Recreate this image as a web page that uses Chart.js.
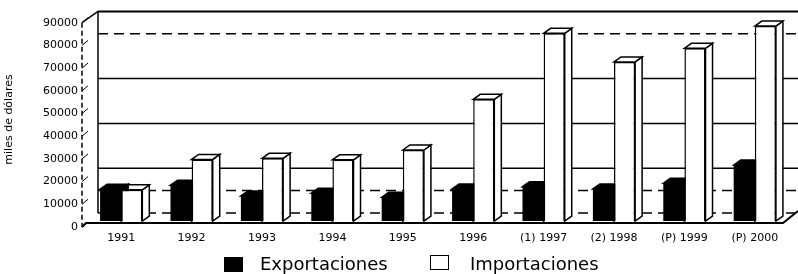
<!DOCTYPE html>
<html>
<head>
<meta charset="utf-8">
<script src="https://cdn.jsdelivr.net/npm/chart.js@4.4.1/dist/chart.umd.min.js"></script>
<style>
  body { margin: 0; background: #fff; }
  #wrap { position: relative; width: 798px; height: 274px; }
  #chart { position: absolute; left: 0; top: 0; }
  .lg { position: absolute; font: 18px "DejaVu Sans", sans-serif; color: #000; line-height: 18px; }
  .box { position: absolute; width: 19px; height: 15px; box-sizing: border-box; }
</style>
</head>
<body>
<div id="wrap">
  <canvas id="chart" width="798" height="274"></canvas>
  <div class="box" style="left:224px;top:257px;background:#000"></div>
  <div class="lg" style="left:260px;top:255px">Exportaciones</div>
  <div class="box" style="left:430px;top:255px;background:#fff;border:1.5px solid #000"></div>
  <div class="lg" style="left:470px;top:255px">Importaciones</div>
</div>
<script>
const years = ["1991", "1992", "1993", "1994", "1995", "1996", "(1) 1997", "(2) 1998", "(P) 1999", "(P) 2000"];
const exportaciones = [14200, 16000, 11200, 12400, 10600, 14300, 15300, 14300, 16800, 25000];
const importaciones = [13900, 27500, 28000, 27300, 31700, 54300, 83800, 71000, 77100, 87000];
const yTicks = [0, 10000, 20000, 30000, 40000, 50000, 60000, 70000, 80000, 90000];
const wallLines = [0, 10000, 20000, 40000, 60000, 80000, 90000];
const yTitle = "miles de dólares";

const smallFont = { family: "DejaVu Sans", size: 11 };

// fake 3d: back wall, left wall, floor and bar depth faces
const depth = {
  id: "depth",
  beforeDatasetsDraw(chart) {
    const ctx = chart.ctx;
    const a = chart.chartArea;
    const yb = chart.scales.yb, yf = chart.scales.yf, y = chart.scales.y;
    const xB = a.left + 12, xF = a.left - 4;
    const dashed = [0, 10000, 80000];
    ctx.save();
    ctx.strokeStyle = "#000";
    // back wall lines
    wallLines.forEach(v => {
      const py = yb.getPixelForValue(v);
      ctx.lineWidth = v === 90000 ? 2 : 1.5;
      ctx.setLineDash(dashed.includes(v) ? [10, 6] : []);
      ctx.beginPath();
      ctx.moveTo(xB, py);
      ctx.lineTo(chart.width, py);
      ctx.stroke();
    });
    ctx.setLineDash([]);
    ctx.lineWidth = 1.5;
    ctx.beginPath();
    ctx.moveTo(xB, yb.getPixelForValue(90000));
    ctx.lineTo(xB, yb.getPixelForValue(0));
    ctx.stroke();
    // front left edge, dashed, with slanted ticks
    ctx.setLineDash([5, 3]);
    ctx.beginPath();
    ctx.moveTo(xF, yf.getPixelForValue(90000));
    ctx.lineTo(xF, yf.getPixelForValue(0));
    ctx.stroke();
    ctx.setLineDash([]);
    ctx.lineWidth = 1;
    yTicks.forEach(v => {
      const py = yf.getPixelForValue(v);
      ctx.beginPath();
      ctx.moveTo(xF, py);
      ctx.lineTo(xF + 6, py - 5);
      ctx.stroke();
    });
    ctx.lineWidth = 1.5;
    ctx.beginPath();
    ctx.moveTo(xF, yf.getPixelForValue(90000));
    ctx.lineTo(xB, yb.getPixelForValue(90000));
    ctx.stroke();
    // floor front edge
    const fy = y.getPixelForValue(0) + 2;
    ctx.lineWidth = 2;
    ctx.beginPath();
    ctx.moveTo(xF, yf.getPixelForValue(0));
    ctx.lineTo(xF + 4, fy);
    ctx.lineTo(a.right - 7, fy);
    ctx.lineTo(a.right + 8, fy - 12);
    ctx.stroke();
    // bar depth faces
    const d = 7, dy = 5;
    [1, 0].forEach(i => {
      const fill = i === 0 ? "#000" : "#fff";
      chart.getDatasetMeta(i).data.forEach(b => {
        const l = b.x - b.width / 2, r = b.x + b.width / 2;
        ctx.fillStyle = fill;
        ctx.lineWidth = 1.5;
        ctx.beginPath();
        ctx.moveTo(r, b.y);
        ctx.lineTo(r + d, b.y - dy);
        ctx.lineTo(r + d, b.base - dy);
        ctx.lineTo(r, b.base);
        ctx.closePath();
        ctx.fill();
        ctx.stroke();
        ctx.beginPath();
        ctx.moveTo(l, b.y);
        ctx.lineTo(l + d, b.y - dy);
        ctx.lineTo(r + d, b.y - dy);
        ctx.lineTo(r, b.y);
        ctx.closePath();
        ctx.fill();
        ctx.stroke();
      });
    });
    ctx.restore();
  }
};

new Chart(document.getElementById("chart"), {
  type: "bar",
  data: {
    labels: years,
    datasets: [
      {
        label: "Exportaciones",
        data: exportaciones,
        backgroundColor: "#000",
        borderColor: "#000",
        borderWidth: 0,
        yAxisID: "y"
      },
      {
        label: "Importaciones",
        data: importaciones,
        backgroundColor: "#fff",
        borderColor: "#000",
        borderWidth: 1.5,
        yAxisID: "y"
      }
    ]
  },
  options: {
    responsive: false,
    animation: false,
    devicePixelRatio: 1,
    layout: { padding: { top: 11, right: 8, bottom: 26, left: 0 } },
    plugins: { legend: { display: false }, tooltip: { enabled: false } },
    datasets: { bar: { categoryPercentage: 0.6, barPercentage: 1.0 } },
    scales: {
      x: {
        grid: { display: false, drawTicks: false },
        border: { display: false },
        ticks: { font: smallFont, color: "#000", padding: 4, maxRotation: 0, autoSkip: false },
        afterFit: s => { s.height = 20; s.paddingLeft = 0; s.paddingRight = 0; }
      },
      y: { display: false, min: -3125, max: 93750 },
      yb: { display: false, min: -6696, max: 90180 },
      yf: {
        position: "left",
        min: -440,
        max: 95150,
        grid: { display: false, drawTicks: false },
        border: { display: false },
        ticks: { font: smallFont, color: "#000", padding: 8, callback: v => String(v) },
        afterBuildTicks: s => { s.ticks = yTicks.map(v => ({ value: v })); },
        afterFit: s => { s.width = 86; s.paddingTop = 0; s.paddingBottom = 0; },
        title: { display: true, text: yTitle, color: "#000", font: smallFont, padding: { top: 3, bottom: 0 } }
      }
    }
  },
  plugins: [depth]
});
</script>
</body>
</html>
